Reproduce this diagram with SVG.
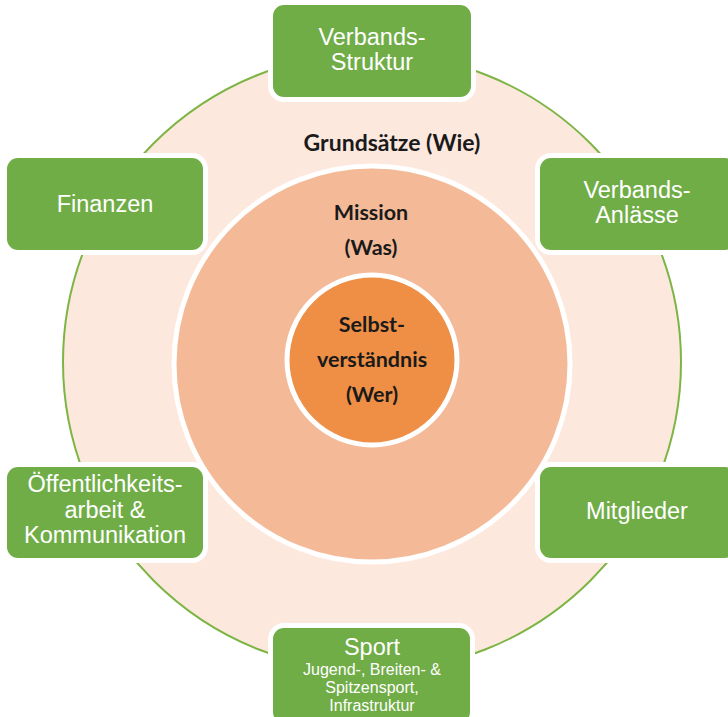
<svg xmlns="http://www.w3.org/2000/svg" width="728" height="717" viewBox="0 0 728 717">
<style>
.box{fill:#70AD47;stroke:#ffffff;stroke-width:10;paint-order:stroke}
.bt{font-family:"Liberation Sans",Arial,sans-serif;font-size:23.5px;fill:#ffffff;text-anchor:middle}
.st{font-family:"Liberation Sans",Arial,sans-serif;font-size:16px;fill:#ffffff;text-anchor:middle}
.ct{font-family:Lato,"Open Sans",sans-serif;font-weight:bold;font-size:21.5px;fill:#1a1a1a;text-anchor:middle}
</style>
<rect width="728" height="717" fill="#ffffff"/>
<g id="rings">
<circle id="outer" cx="372" cy="362" r="309" fill="#FDE8DE" stroke="#7DB544" stroke-width="2"/>
<circle id="mission" cx="372" cy="364" r="198" fill="#F4BA98" stroke="#ffffff" stroke-width="5"/>
<circle id="core" cx="372" cy="360" r="85" fill="#EE8F45" stroke="#ffffff" stroke-width="5"/>
</g>
<g id="labels">
<text class="ct" x="392" y="151" style="font-size:23px">Grundsätze (Wie)</text>
<text class="ct" x="371" y="220">Mission</text>
<text class="ct" x="371" y="255">(Was)</text>
<text class="ct" x="372" y="332">Selbst-</text>
<text class="ct" x="372" y="367">verständnis</text>
<text class="ct" x="372" y="402">(Wer)</text>
</g>
<g id="connectors"></g>
<g id="n-struktur">
<rect class="box" x="273" y="5" width="198" height="92" rx="11"/>
<text class="bt" x="372" y="45">Verbands-</text>
<text class="bt" x="372" y="70">Struktur</text>
</g>
<g id="n-finanzen">
<rect class="box" x="7" y="158" width="196" height="92" rx="11"/>
<text class="bt" x="105" y="212">Finanzen</text>
</g>
<g id="n-anlaesse">
<rect class="box" x="540" y="158" width="196" height="92" rx="11"/>
<text class="bt" x="637" y="198">Verbands-</text>
<text class="bt" x="637" y="223">Anlässe</text>
</g>
<g id="n-oeffentlichkeit">
<rect class="box" x="7" y="467" width="196" height="91" rx="11"/>
<text class="bt" x="105" y="492">Öffentlichkeits-</text>
<text class="bt" x="105" y="518">arbeit &amp;</text>
<text class="bt" x="105" y="543">Kommunikation</text>
</g>
<g id="n-mitglieder">
<rect class="box" x="540" y="467" width="196" height="91" rx="11"/>
<text class="bt" x="637" y="519">Mitglieder</text>
</g>
<g id="n-sport">
<rect class="box" x="273" y="628" width="197" height="95" rx="11"/>
<text class="bt" x="372" y="655">Sport</text>
<text class="st" x="372" y="675">Jugend-, Breiten- &amp;</text>
<text class="st" x="372" y="693">Spitzensport,</text>
<text class="st" x="372" y="711">Infrastruktur</text>
</g>
</svg>
